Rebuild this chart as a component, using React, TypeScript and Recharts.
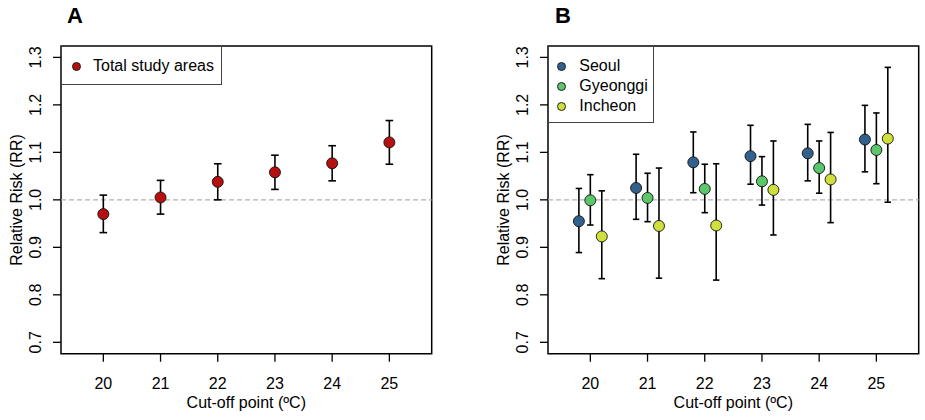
import React from 'react';
import {
  ScatterChart, Scatter, XAxis, YAxis, ErrorBar, ReferenceLine, ReferenceArea, Label,
} from 'recharts';

// ---- data ----
const cutoffs = [20, 21, 22, 23, 24, 25];
const xTicks = [20, 21, 22, 23, 24, 25];
const yTicks = [0.7, 0.8, 0.9, 1.0, 1.1, 1.2, 1.3];

const totalRR = [0.970, 1.005, 1.038, 1.058, 1.077, 1.121];
const totalLo = [0.931, 0.970, 1.000, 1.022, 1.040, 1.075];
const totalHi = [1.010, 1.041, 1.076, 1.094, 1.114, 1.167];

const seoulRR = [0.955, 1.025, 1.079, 1.092, 1.098, 1.127];
const seoulLo = [0.889, 0.959, 1.015, 1.033, 1.040, 1.059];
const seoulHi = [1.024, 1.096, 1.143, 1.157, 1.159, 1.199];

const gyeonggiRR = [0.999, 1.004, 1.023, 1.039, 1.067, 1.105];
const gyeonggiLo = [0.947, 0.954, 0.973, 0.989, 1.014, 1.034];
const gyeonggiHi = [1.053, 1.056, 1.075, 1.091, 1.124, 1.183];

const incheonRR = [0.923, 0.945, 0.946, 1.021, 1.043, 1.129];
const incheonLo = [0.834, 0.835, 0.831, 0.926, 0.952, 0.995];
const incheonHi = [1.019, 1.067, 1.076, 1.124, 1.142, 1.279];

const X_DOMAIN: [number, number] = [19.26, 25.74];
const Y_DOMAIN: [number, number] = [0.676, 1.324];
const FONT = '"Liberation Sans", Arial, Helvetica, sans-serif';

type Series = { name: string; color: string; rr: number[]; lo: number[]; hi: number[]; dodge: number };

const build = (s: Series) =>
  cutoffs.map((c, i) => ({ x: c + s.dodge, rr: s.rr[i], err: [s.rr[i] - s.lo[i], s.hi[i] - s.rr[i]] }));

const seriesA: Series[] = [
  { name: 'Total study areas', color: '#B50F0F', rr: totalRR, lo: totalLo, hi: totalHi, dodge: 0 },
];
const seriesB: Series[] = [
  { name: 'Seoul', color: '#32618C', rr: seoulRR, lo: seoulLo, hi: seoulHi, dodge: -0.2 },
  { name: 'Gyeonggi', color: '#5CC66A', rr: gyeonggiRR, lo: gyeonggiLo, hi: gyeonggiHi, dodge: 0 },
  { name: 'Incheon', color: '#CFE03C', rr: incheonRR, lo: incheonLo, hi: incheonHi, dodge: 0.2 },
];

const YTick = (p: any) => (
  <text
    transform={`translate(${p.x}, ${p.y}) rotate(-90)`}
    textAnchor="middle"
    fontSize={16}
    fontFamily={FONT}
    fill="#000"
  >
    {Number(p.payload.value).toFixed(1)}
  </text>
);

const XTick = (p: any) => (
  <text x={p.x} y={p.y} dy="0.71em" textAnchor="middle" fontSize={16} fontFamily={FONT} fill="#000">
    {p.payload.value}
  </text>
);

const LegendBox = ({ series, dotX, textX, w, h }: { series: Series[]; dotX: number; textX: number; w: number; h: number }) => (
  <div
    style={{
      position: 'absolute',
      left: 61,
      top: 46,
      width: w,
      height: h,
      border: '1.5px solid #444',
      boxSizing: 'border-box',
      background: '#fff',
      fontFamily: FONT,
      fontSize: 16,
    }}
  >
    {series.map((s, i) => (
      <div key={s.name} style={{ position: 'absolute', left: 0, top: 9 + i * 20, height: 20, width: w }}>
        <span
          style={{
            position: 'absolute',
            left: dotX - 4.5,
            top: 5.5,
            width: 9,
            height: 9,
            borderRadius: '50%',
            background: s.color,
            border: '1px solid #222',
            boxSizing: 'border-box',
          }}
        />
        <span style={{ position: 'absolute', left: textX, top: 0, lineHeight: '20px', color: '#000', whiteSpace: 'nowrap' }}>{s.name}</span>
      </div>
    ))}
  </div>
);

const Panel = ({
  series, left, capW, legend,
}: { series: Series[]; left: number; capW: number; legend: React.ReactNode }) => (
  <div style={{ position: 'absolute', left, top: 0, width: 440, height: 420 }}>
    <ScatterChart width={440} height={420} margin={{ top: 46, right: 8.3, bottom: 0.3, left: 0 }}>
      <XAxis
        type="number"
        dataKey="x"
        domain={X_DOMAIN}
        ticks={xTicks}
        allowDataOverflow
        axisLine={false}
        tickLine={{ stroke: '#000', strokeWidth: 1.3 }}
        tickSize={8}
        tickMargin={16}
        height={66}
        tick={<XTick />}
      >
        <Label
          content={() => (
            <text x={246.3} y={408} textAnchor="middle" fontSize={16} fontFamily={FONT} fill="#000">
              Cut-off point (ºC)
            </text>
          )}
        />
      </XAxis>
      <YAxis
        type="number"
        dataKey="rr"
        domain={Y_DOMAIN}
        ticks={yTicks}
        allowDataOverflow
        axisLine={false}
        tickLine={{ stroke: '#000', strokeWidth: 1.3 }}
        tickSize={8}
        tickMargin={12}
        width={61}
        tick={<YTick />}
      >
        <Label
          content={() => (
            <text
              transform="translate(22, 200) rotate(-90)"
              textAnchor="middle"
              fontSize={16}
              fontFamily={FONT}
              fill="#000"
            >
              Relative Risk (RR)
            </text>
          )}
        />
      </YAxis>
      <ReferenceLine y={1} stroke="#b3b3b3" strokeWidth={1.2} strokeDasharray="5 3" ifOverflow="visible" />
      <ReferenceArea
        x1={X_DOMAIN[0]}
        x2={X_DOMAIN[1]}
        y1={Y_DOMAIN[0]}
        y2={Y_DOMAIN[1]}
        fill="none"
        fillOpacity={0}
        stroke="#000"
        strokeWidth={1.5}
        ifOverflow="visible"
      />
      {series.map((s) => (
        <Scatter
          key={s.name}
          name={s.name}
          data={build(s)}
          fill={s.color}
          isAnimationActive={false}
          shape={(p: any) => (
            <circle cx={p.cx} cy={p.cy} r={5.5} fill={s.color} stroke="#111" strokeWidth={0.9} />
          )}
        >
          <ErrorBar dataKey="err" direction="y" width={capW} stroke="#000" strokeWidth={1.6} isAnimationActive={false} />
        </Scatter>
      ))}
    </ScatterChart>
    {legend}
  </div>
);

export default function App() {
  return (
    <div style={{ position: 'absolute', left: 0, top: 0, width: 925, height: 420, background: '#fff', overflow: 'hidden' }}>
      <Panel series={seriesA} left={0} capW={3.8} legend={<LegendBox series={seriesA} dotX={14} textX={31} w={161} h={39} />} />
      <Panel series={seriesB} left={487.3} capW={3.2} legend={<LegendBox series={seriesB} dotX={12} textX={30} w={106} h={77} />} />
      <svg width={925} height={40} style={{ position: 'absolute', left: 0, top: 0 }}>
        <text x={67} y={23} fontSize={22} fontWeight="bold" fontFamily={FONT} fill="#000">A</text>
        <text x={555} y={23} fontSize={22} fontWeight="bold" fontFamily={FONT} fill="#000">B</text>
      </svg>
    </div>
  );
}
